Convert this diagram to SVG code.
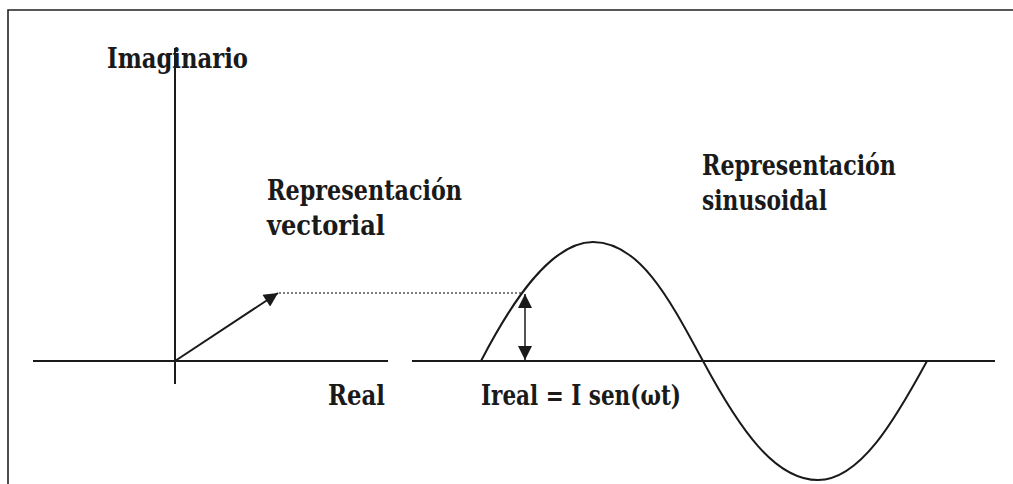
<svg xmlns="http://www.w3.org/2000/svg" width="1013" height="484" viewBox="0 0 1013 484">
<style>
.ax{stroke:#1a1a1a;stroke-width:2;fill:none}
.fr{stroke:#222;stroke-width:1.6;fill:none}
text{font-family:'DejaVu Serif','Liberation Serif',serif;font-weight:bold;font-size:27px;fill:#1a1a1a}
</style>
<defs>
<marker id="ah2" viewBox="0 0 10 10" refX="10" refY="5" markerWidth="15" markerHeight="14" markerUnits="userSpaceOnUse" orient="auto-start-reverse">
<path d="M0,0 L10,5 L0,10 Z" fill="#1a1a1a"/>
</marker>
</defs>
<rect width="1013" height="484" fill="#fff"/>
<g id="frame">
<path class="fr" d="M8,484 V10 H1013"/>
</g>
<g id="axes">
<line class="ax" x1="175" y1="48" x2="175" y2="384"/>
<line class="ax" x1="33" y1="361" x2="388" y2="361"/>
<line class="ax" x1="412" y1="361" x2="995" y2="361"/>
</g>
<g id="connectors">
<line x1="175" y1="361" x2="278" y2="293" stroke="#1a1a1a" stroke-width="2" marker-end="url(#ah2)"/>
<line x1="279" y1="293" x2="522" y2="293" stroke="#555" stroke-width="1.5" stroke-dasharray="2,2"/>
<line x1="525" y1="294" x2="525" y2="360" stroke="#1a1a1a" stroke-width="1.5" marker-start="url(#ah2)" marker-end="url(#ah2)"/>
</g>
<g id="sine">
<path class="ax" d="M481,361 C510,305 550,242 593,242 C640,242 670,300 703,361 C740,430 775,480 818,480 C860,480 895,420 927,361"/>
</g>
<g id="labels">
<text x="107" y="68" textLength="141" lengthAdjust="spacingAndGlyphs">Imaginario</text>
<text x="267" y="200" textLength="195" lengthAdjust="spacingAndGlyphs">Representación</text>
<text x="267" y="235" textLength="118" lengthAdjust="spacingAndGlyphs">vectorial</text>
<text x="702" y="175" textLength="194" lengthAdjust="spacingAndGlyphs">Representación</text>
<text x="702" y="210" textLength="125" lengthAdjust="spacingAndGlyphs">sinusoidal</text>
<text x="328" y="405" textLength="57" lengthAdjust="spacingAndGlyphs">Real</text>
<text x="481" y="405" textLength="200" lengthAdjust="spacingAndGlyphs">Ireal = I sen(ωt)</text>
</g>
</svg>
